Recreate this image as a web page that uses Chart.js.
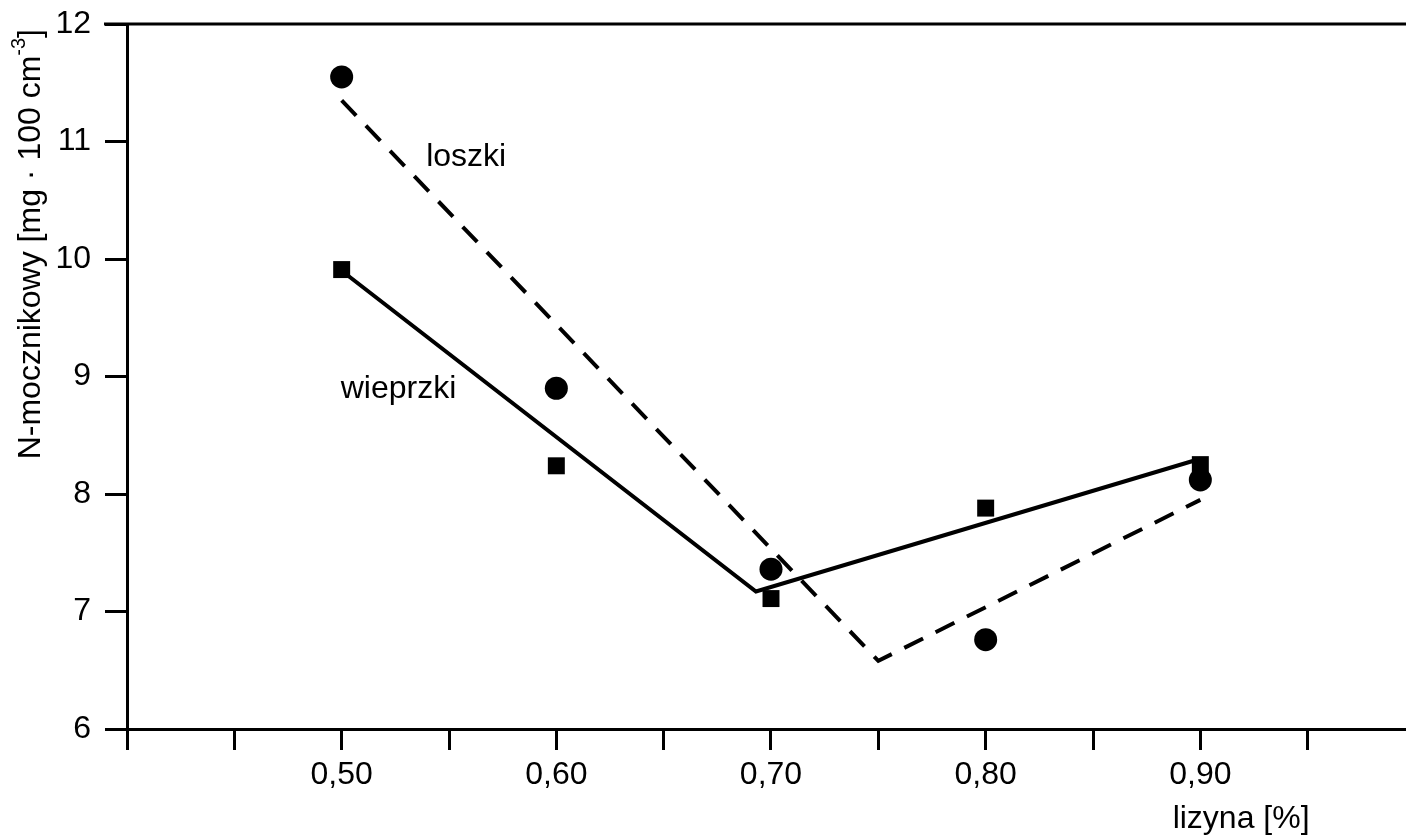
<!DOCTYPE html>
<html>
<head>
<meta charset="utf-8">
<script src="https://cdn.jsdelivr.net/npm/chart.js@4.4.1/dist/chart.umd.min.js"></script>
<style>
  html, body { margin: 0; padding: 0; background: #fff; overflow: hidden; }
  #wrap { width: 1427px; height: 836px; }
</style>
</head>
<body>
<div id="wrap"><canvas id="mycanvas" width="1427" height="836"></canvas></div>
<script>
// lizyna [%] levels and measured N-mocznikowy
var lysineLevels = [0.50, 0.60, 0.70, 0.80, 0.90];
var loszkiValues = [11.55, 8.90, 7.36, 6.76, 8.12];     // circles
var wieprzkiValues = [9.91, 8.24, 7.11, 7.88, 8.25];    // squares

// broken-line fits
var loszkiFitX = [0.50, 0.75, 0.90];
var loszkiFitY = [11.35, 6.58, 7.95];
var wieprzkiFitX = [0.50, 0.693, 0.90];
var wieprzkiFitY = [9.90, 7.17, 8.30];

// ticks
var xTickValues = [0.40, 0.45, 0.50, 0.55, 0.60, 0.65, 0.70, 0.75, 0.80, 0.85, 0.90, 0.95, 1.00];
var xTickLabels = {50: "0,50", 60: "0,60", 70: "0,70", 80: "0,80", 90: "0,90"};
var yTickValues = [6, 7, 8, 9, 10, 11, 12];

var FONT = "'Liberation Sans', Arial, sans-serif";

function pairs(xs, ys) {
	var out = [];
	for (var i in xs) {
		out.push({x: xs[i], y: ys[i]});
	}
	return out;
}

var extras = {
	id: "extras",
	afterDraw: function(chart) {
		var ctx = chart.ctx;
		var area = chart.chartArea;
		var xs = chart.scales.x;
		var ys = chart.scales.y;
		ctx.save();
		// top frame line
		ctx.strokeStyle = "#000";
		ctx.lineWidth = 3;
		ctx.beginPath();
		ctx.moveTo(area.left - 23, area.top);
		ctx.lineTo(area.right, area.top);
		ctx.stroke();

		ctx.fillStyle = "#000";
		ctx.font = "32px " + FONT;
		ctx.textAlign = "center";
		ctx.textBaseline = "middle";
		ctx.fillText("loszki", xs.getPixelForValue(0.558), ys.getPixelForValue(10.87));
		ctx.fillText("wieprzki", xs.getPixelForValue(0.5265), ys.getPixelForValue(8.89));

		// x title
		ctx.textBaseline = "alphabetic";
		ctx.fillText("lizyna [%]", xs.getPixelForValue(0.919), 828);

		// y title, rotated, with superscript
		var main = "N-mocznikowy [mg · 100 cm";
		var sup = "-3";
		var tail = "]";
		ctx.font = "32px " + FONT;
		var wMain = ctx.measureText(main).width;
		var wTail = ctx.measureText(tail).width;
		ctx.font = "20px " + FONT;
		var wSup = ctx.measureText(sup).width;
		var total = wMain + wSup + wTail;
		ctx.translate(31, area.top + 5 + total);
		ctx.rotate(-Math.PI / 2);
		ctx.textAlign = "left";
		ctx.textBaseline = "middle";
		ctx.font = "32px " + FONT;
		ctx.fillText(main, 0, 0);
		ctx.font = "20px " + FONT;
		ctx.fillText(sup, wMain, -12);
		ctx.font = "32px " + FONT;
		ctx.fillText(tail, wMain + wSup, 0);
		ctx.restore();
	}
};

var ctx = document.getElementById("mycanvas");

var chartdata = {
	datasets: [
		{
			label: "loszki fit",
			data: pairs(loszkiFitX, loszkiFitY),
			showLine: true,
			borderColor: "#000",
			borderWidth: 4,
			borderDash: [21, 14],
			pointRadius: 0,
			fill: false,
			tension: 0
		},
		{
			label: "wieprzki fit",
			data: pairs(wieprzkiFitX, wieprzkiFitY),
			showLine: true,
			borderColor: "#000",
			borderWidth: 4,
			pointRadius: 0,
			fill: false,
			tension: 0
		},
		{
			label: "loszki",
			data: pairs(lysineLevels, loszkiValues),
			pointStyle: "circle",
			pointRadius: 11.5,
			backgroundColor: "#000",
			borderColor: "#000",
			borderWidth: 0
		},
		{
			label: "wieprzki",
			data: pairs(lysineLevels, wieprzkiValues),
			pointStyle: "rect",
			pointRadius: 12,
			backgroundColor: "#000",
			borderColor: "#000",
			borderWidth: 0
		}
	]
};

var chart = new Chart(ctx, {
	type: "scatter",
	data: chartdata,
	plugins: [extras],
	options: {
		responsive: false,
		animation: false,
		layout: { padding: { top: 24, right: 0, left: 0, bottom: 0 } },
		plugins: { legend: { display: false }, tooltip: { enabled: false } },
		scales: {
			x: {
				type: "linear",
				min: 0.40,
				max: 1.00,
				afterBuildTicks: function(s) {
					s.ticks = xTickValues.map(function(v) { return {value: v}; });
				},
				afterFit: function(s) { s.height = 107; },
				ticks: {
					autoSkip: false,
					maxRotation: 0,
					padding: 6,
					color: "#000",
					font: { size: 32, family: FONT },
					callback: function(v) {
						var k = Math.round(v * 100);
						return xTickLabels[k] || "";
					}
				},
				grid: {
					drawOnChartArea: false,
					drawTicks: true,
					tickLength: 21,
					tickWidth: 3,
					tickColor: "#000"
				},
				border: { display: true, color: "#000", width: 3 }
			},
			y: {
				min: 6,
				max: 12,
				afterBuildTicks: function(s) {
					s.ticks = yTickValues.map(function(v) { return {value: v}; });
				},
				afterFit: function(s) { s.width = 127; },
				ticks: {
					padding: 14,
					color: "#000",
					font: { size: 32, family: FONT, lineHeight: 0.5 }
				},
				grid: {
					drawOnChartArea: false,
					drawTicks: true,
					tickLength: 22,
					tickWidth: 3,
					tickColor: "#000"
				},
				border: { display: true, color: "#000", width: 3 }
			}
		}
	}
});
</script>
</body>
</html>
